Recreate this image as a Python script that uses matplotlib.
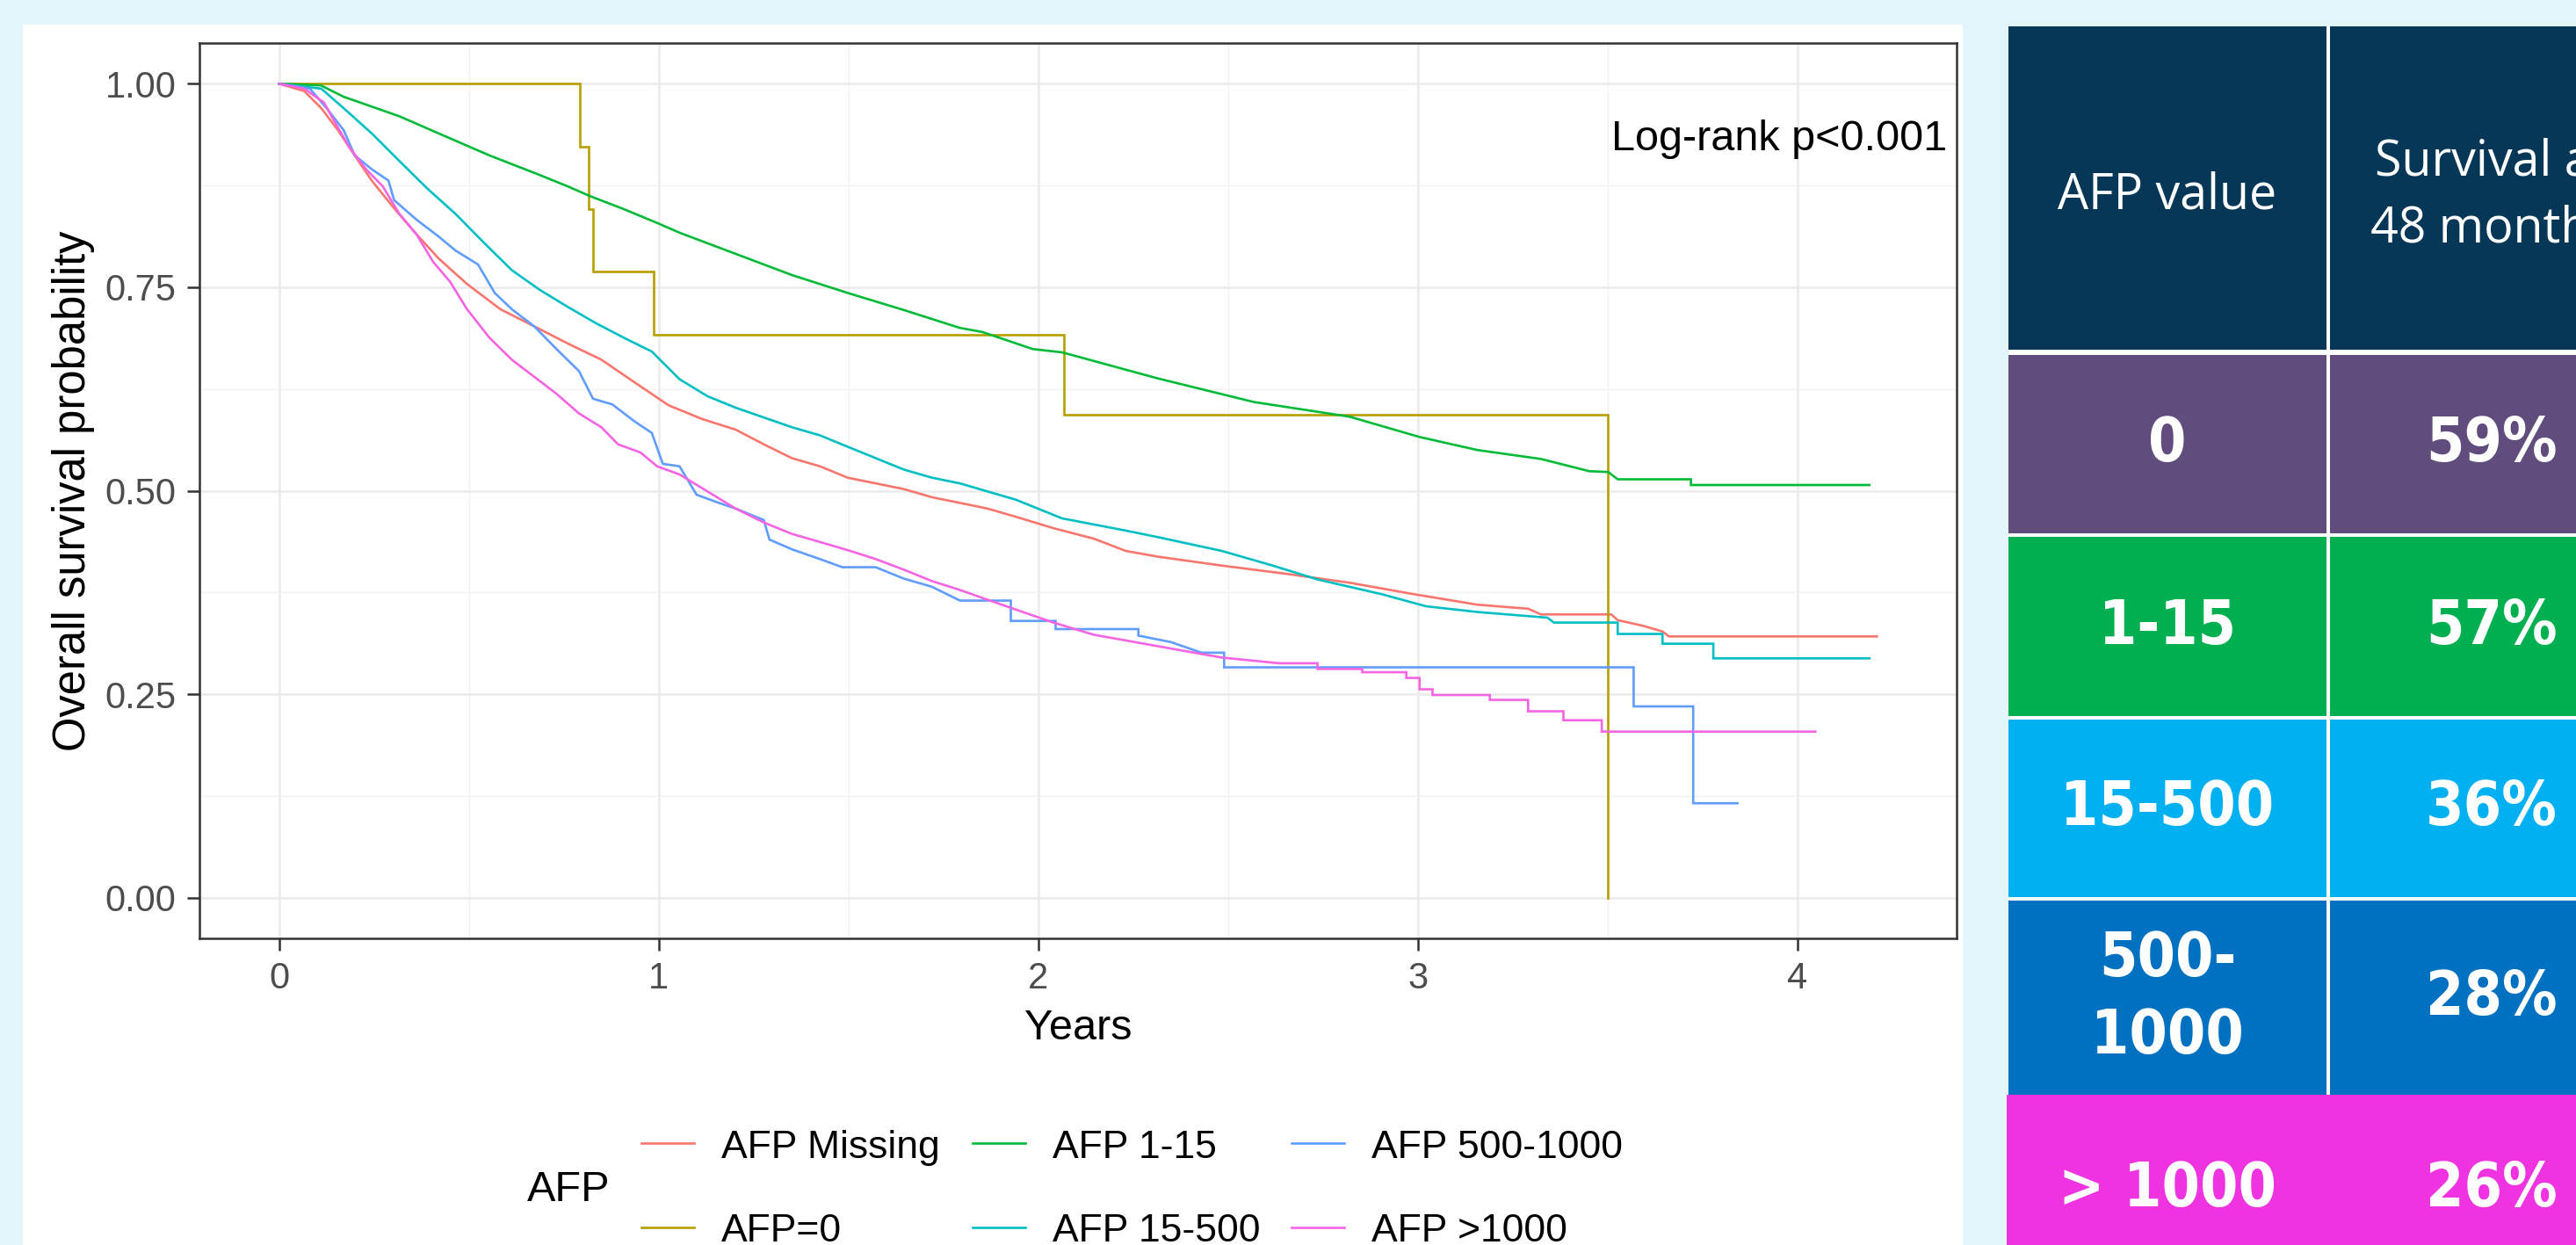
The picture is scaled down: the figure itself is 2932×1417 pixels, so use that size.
import matplotlib
matplotlib.use('Agg')
import matplotlib.pyplot as plt
from matplotlib.patches import Rectangle
from matplotlib.lines import Line2D

plt.rcParams['font.family'] = ['Liberation Sans', 'DejaVu Sans']

# Kaplan-Meier curves: years, overall survival probability
missing_t = [0, 0.066, 0.111, 0.155, 0.199, 0.244, 0.303, 0.362, 0.421, 0.495, 0.583, 0.672, 0.760, 0.849,
             0.937, 1.026, 1.115, 1.203, 1.277, 1.351, 1.425, 1.498, 1.572, 1.646, 1.720, 1.794, 1.867, 1.941,
             2.04, 2.147, 2.231, 2.315, 2.484, 2.652, 2.820, 2.988, 3.157, 3.291, 3.325, 3.510, 3.527, 3.594,
             3.645, 3.662, 4.21]
missing_s = [1.0, 0.991, 0.970, 0.943, 0.912, 0.881, 0.847, 0.815, 0.785, 0.754, 0.723, 0.702, 0.681, 0.661,
             0.633, 0.605, 0.588, 0.575, 0.557, 0.540, 0.530, 0.516, 0.509, 0.502, 0.492, 0.485, 0.478, 0.468,
             0.454, 0.441, 0.426, 0.419, 0.408, 0.398, 0.387, 0.373, 0.360, 0.355, 0.348, 0.348, 0.341, 0.334,
             0.327, 0.321, 0.321]

zero_t = [0, 0.793, 0.816, 0.827, 0.986, 2.068, 3.502]
zero_s = [1.0, 0.923, 0.846, 0.769, 0.692, 0.593, 0.0]

low_t = [0, 0.11, 0.17, 0.317, 0.435, 0.554, 0.686, 0.76, 0.819, 0.908, 0.996, 1.055, 1.203, 1.351, 1.498,
         1.646, 1.794, 1.853, 1.986, 2.063, 2.315, 2.568, 2.820, 3.005, 3.157, 3.325, 3.452, 3.502, 3.527,
         3.720, 3.720, 4.19]
low_s = [1.0, 0.998, 0.984, 0.960, 0.936, 0.912, 0.888, 0.874, 0.862, 0.846, 0.829, 0.817, 0.791, 0.765, 0.743,
         0.722, 0.700, 0.695, 0.674, 0.670, 0.638, 0.609, 0.591, 0.566, 0.550, 0.539, 0.524, 0.523, 0.514,
         0.514, 0.507, 0.507]

mid_t = [0, 0.111, 0.17, 0.244, 0.317, 0.391, 0.465, 0.539, 0.613, 0.686, 0.760, 0.834, 0.908, 0.982, 1.055,
         1.129, 1.203, 1.277, 1.351, 1.425, 1.498, 1.572, 1.646, 1.720, 1.794, 1.867, 1.941, 2.063, 2.231,
         2.315, 2.484, 2.618, 2.736, 2.904, 3.022, 3.157, 3.342, 3.359, 3.527, 3.527, 3.645, 3.645, 3.779,
         3.779, 4.19]
mid_s = [1.0, 0.994, 0.970, 0.939, 0.905, 0.871, 0.840, 0.805, 0.771, 0.747, 0.726, 0.706, 0.688, 0.671, 0.637,
         0.616, 0.602, 0.590, 0.578, 0.568, 0.554, 0.540, 0.526, 0.516, 0.509, 0.499, 0.489, 0.466, 0.451,
         0.443, 0.426, 0.408, 0.391, 0.373, 0.358, 0.351, 0.344, 0.338, 0.338, 0.324, 0.324, 0.312, 0.312,
         0.294, 0.294]

high_t = [0, 0.081, 0.125, 0.17, 0.199, 0.244, 0.288, 0.303, 0.362, 0.421, 0.465, 0.524, 0.568, 0.613, 0.672,
          0.731, 0.790, 0.827, 0.878, 0.937, 0.982, 1.011, 1.055, 1.100, 1.159, 1.203, 1.277, 1.292, 1.351,
          1.425, 1.484, 1.572, 1.646, 1.720, 1.794, 1.928, 1.928, 2.046, 2.046, 2.264, 2.264, 2.35, 2.43,
          2.49, 2.49, 3.569, 3.569, 3.726, 3.726, 3.843]
high_s = [1.0, 0.994, 0.970, 0.943, 0.912, 0.895, 0.881, 0.857, 0.833, 0.812, 0.795, 0.778, 0.743, 0.723, 0.702,
          0.674, 0.647, 0.613, 0.606, 0.585, 0.571, 0.533, 0.530, 0.495, 0.485, 0.478, 0.464, 0.440, 0.428,
          0.416, 0.406, 0.406, 0.392, 0.382, 0.365, 0.365, 0.340, 0.340, 0.330, 0.330, 0.322, 0.314, 0.301,
          0.301, 0.283, 0.283, 0.235, 0.235, 0.116, 0.116]

vhigh_t = [0, 0.066, 0.118, 0.155, 0.185, 0.229, 0.273, 0.317, 0.362, 0.406, 0.450, 0.495, 0.554, 0.613, 0.672,
           0.731, 0.790, 0.849, 0.893, 0.952, 0.996, 1.055, 1.129, 1.203, 1.277, 1.351, 1.425, 1.498, 1.572,
           1.646, 1.720, 1.794, 1.867, 1.941, 2.04, 2.147, 2.231, 2.315, 2.399, 2.484, 2.635, 2.736, 2.736,
           2.854, 2.854, 2.97, 2.97, 3.005, 3.005, 3.039, 3.039, 3.19, 3.19, 3.291, 3.291, 3.384, 3.384,
           3.485, 3.485, 4.048]
vhigh_s = [1.0, 0.994, 0.977, 0.946, 0.922, 0.895, 0.874, 0.840, 0.815, 0.781, 0.757, 0.723, 0.688, 0.661, 0.640,
           0.619, 0.595, 0.578, 0.557, 0.547, 0.530, 0.520, 0.499, 0.478, 0.461, 0.447, 0.437, 0.427, 0.416,
           0.403, 0.389, 0.378, 0.366, 0.354, 0.338, 0.323, 0.316, 0.309, 0.302, 0.295, 0.288, 0.288, 0.281,
           0.281, 0.277, 0.277, 0.270, 0.270, 0.256, 0.256, 0.249, 0.249, 0.243, 0.243, 0.229, 0.229, 0.218,
           0.218, 0.204, 0.204]

group_labels = ['AFP Missing', 'AFP=0', 'AFP 1-15', 'AFP 15-500', 'AFP 500-1000', 'AFP >1000']
group_colors = ['#F8766D', '#B79F00', '#00BA38', '#00BFC4', '#619CFF', '#F564E3']
curves = [(missing_t, missing_s, 'default'), (zero_t, zero_s, 'steps-post'), (low_t, low_s, 'default'),
          (mid_t, mid_s, 'default'), (high_t, high_s, 'default'), (vhigh_t, vhigh_s, 'default')]

x_ticks = [0, 1, 2, 3, 4]
y_ticks = [0.0, 0.25, 0.5, 0.75, 1.0]
y_ticklabels = ['0.00', '0.25', '0.50', '0.75', '1.00']

# summary table on the right
table_header = ['AFP value', 'Survival at\n48 months']
table_groups = ['0', '1-15', '15-500', '500-\n1000', '> 1000']
table_surv = ['59%', '57%', '36%', '28%', '26%']
row_colors = ['#604C7D', '#00B050', '#00B0F0', '#0070C0', '#EF33E0']

W, H = 2932, 1417
fig = plt.figure(figsize=(W / 100, H / 100), dpi=100, facecolor='#E3F6FB')

# background layer in pixel coordinates (panel, legend, table)
bg = fig.add_axes([0, 0, 1, 1], zorder=0)
bg.set_xlim(0, W)
bg.set_ylim(H, 0)
bg.axis('off')
bg.add_patch(Rectangle((26, 28), 2234 - 26, H - 28, facecolor='white', edgecolor='none'))

# ---- survival plot ----
ax = fig.add_axes([227 / W, 1 - 1068 / H, 2000 / W, 1019 / H], zorder=1)
ax.set_facecolor('white')
for (t, s, ds), c in zip(curves, group_colors):
    ax.plot(t, s, color=c, lw=1.9, drawstyle=ds, solid_joinstyle='miter')

ax.set_xlim(-0.21, 4.42)
ax.set_ylim(-0.05, 1.05)
ax.set_xticks(x_ticks)
ax.set_xticks([0.5, 1.5, 2.5, 3.5], minor=True)
ax.set_yticks(y_ticks)
ax.set_yticklabels(y_ticklabels)
ax.set_yticks([0.125, 0.375, 0.625, 0.875], minor=True)
ax.grid(which='major', color='#EBEBEB', lw=1.8)
ax.grid(which='minor', color='#F2F2F2', lw=1.0)
ax.set_axisbelow(True)
ax.tick_params(which='major', length=10, width=1.8, color='#333333', labelcolor='#4D4D4D',
               labelsize=30, pad=9)
ax.tick_params(which='minor', length=0)
for sp in ax.spines.values():
    sp.set_color('#333333')
    sp.set_linewidth(1.8)

ax.text(4.394, 0.9185, 'Log-rank p<0.001', ha='right', va='baseline', fontsize=35, color='black')

bg.text(1227, 1183, 'Years', ha='center', va='baseline', fontsize=35)
bg.text(84, 559, 'Overall survival probability', rotation=90, ha='center', va='center', fontsize=36.5)

# ---- legend ----
bg.text(600, 1367, 'AFP', ha='left', va='baseline', fontsize=35)
key_x = [730, 1107, 1470]
key_y = [1301, 1397]
text_base = [1318, 1413]
for i, (lab, c) in enumerate(zip(group_labels, group_colors)):
    col, row = i // 2, i % 2
    bg.add_line(Line2D([key_x[col], key_x[col] + 60], [key_y[row], key_y[row]], color=c, lw=1.9))
    bg.text(key_x[col] + 91, text_base[row], lab, ha='left', va='baseline', fontsize=32)

# ---- table ----
col_x = [(2286, 2648), (2652, 3020)]
row_y = [(404, 607), (611, 815), (819, 1021), (1025, 1246)]
bg.add_patch(Rectangle((2286, 30), W - 2286, 1246 - 30, facecolor='white', edgecolor='none'))
for x0, x1 in col_x:
    bg.add_patch(Rectangle((x0, 30), x1 - x0, 398 - 30, facecolor='#073757', edgecolor='none'))

bg.text(sum(col_x[0]) / 2, 238, table_header[0], ha='center', va='baseline', fontsize=40,
        family='Open Sans', color='white')
for k, line in enumerate(table_header[1].split('\n')):
    bg.text(sum(col_x[1]) / 2, 200 + 75 * k, line, ha='center', va='baseline', fontsize=40,
            family='Open Sans', color='white')

cell_font = dict(family='DejaVu Sans', weight='bold', stretch='condensed', color='white', fontsize=50,
                 ha='center', va='center', linespacing=1.4)
for i in range(4):
    y0, y1 = row_y[i]
    for x0, x1 in col_x:
        bg.add_patch(Rectangle((x0, y0), x1 - x0, y1 - y0, facecolor=row_colors[i], edgecolor='none'))
    bg.text(sum(col_x[0]) / 2, (y0 + y1) / 2, table_groups[i], **cell_font)
    bg.text(sum(col_x[1]) / 2, (y0 + y1) / 2, table_surv[i], **cell_font)

bg.add_patch(Rectangle((2284, 1246), W - 2284, H - 1246, facecolor=row_colors[4], edgecolor='none'))
bg.text(sum(col_x[0]) / 2, 1353, table_groups[4], **cell_font)
bg.text(sum(col_x[1]) / 2, 1353, table_surv[4], **cell_font)

fig.savefig('out.png', dpi=100, facecolor=fig.get_facecolor())
